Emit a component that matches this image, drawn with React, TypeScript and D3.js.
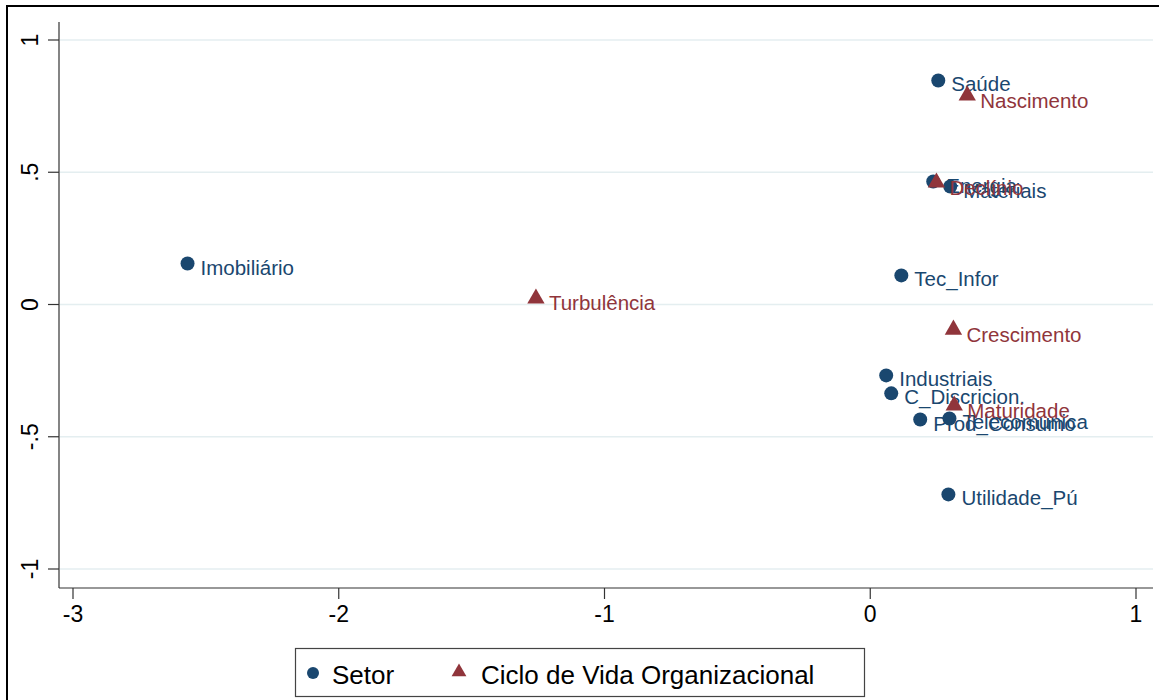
import React from "react";
import * as d3 from "d3";

const setorNames = ["Saúde", "Energia", "Materiais", "Imobiliário", "Tec_Infor", "Industriais", "C_Discricion.", "Prod_Consumo", "Telecomunica", "Utilidade_Pú"];
const setorX = [0.256, 0.237, 0.301, -2.569, 0.117, 0.06, 0.079, 0.188, 0.298, 0.294];
const setorY = [0.847, 0.465, 0.446, 0.155, 0.11, -0.268, -0.336, -0.435, -0.431, -0.718];

const cicloNames = ["Nascimento", "Declínio", "Turbulência", "Crescimento", "Maturidade"];
const cicloX = [0.365, 0.249, -1.258, 0.313, 0.316];
const cicloY = [0.79, 0.461, 0.023, -0.095, -0.382];

const xTicks = [-3, -2, -1, 0, 1];
const xTickLabels = ["-3", "-2", "-1", "0", "1"];
const yTicks = [-1, -0.5, 0, 0.5, 1];
const yTickLabels = ["-1", "-.5", "0", ".5", "1"];
const legendLabels = ["Setor", "Ciclo de Vida Organizacional"];

const BLUE = "#1a476f";
const RED = "#90353b";
const FONT = "'Liberation Sans', Arial, Helvetica, sans-serif";

export default function App() {
  const W = 1159, H = 700;
  const x = d3.scaleLinear().domain([-3, 1]).range([73, 1136]);
  const y = d3.scaleLinear().domain([-1, 1]).range([569, 40]);
  const axisX = 59, axisY = 588, plotRight = 1153, plotTop = 22;
  const tri = d3.symbol().type(d3.symbolTriangle).size(130)() as string;
  const triLeg = d3.symbol().type(d3.symbolTriangle).size(95)() as string;

  return (
    <div style={{ position: "absolute", left: 0, top: 0 }}>
      <svg width={W} height={H} style={{ display: "block", fontFamily: FONT }}>
        <rect x={0} y={0} width={W} height={H} fill="#fff" />
        <rect x={7} y={6} width={W + 10} height={H + 10} fill="none" stroke="#000" strokeWidth={2} />
        {yTicks.map((t) => (
          <line key={"g" + t} x1={axisX + 1} x2={plotRight} y1={y(t)} y2={y(t)} stroke="#e4eef0" strokeWidth={1.5} />
        ))}
        <line x1={axisX} x2={axisX} y1={plotTop} y2={axisY} stroke="#333" strokeWidth={1.2} />
        <line x1={axisX} x2={plotRight} y1={axisY} y2={axisY} stroke="#333" strokeWidth={1.2} />
        {yTicks.map((t, i) => (
          <g key={"yt" + t}>
            <line x1={axisX - 11} x2={axisX} y1={y(t)} y2={y(t)} stroke="#333" strokeWidth={1.2} />
            <text
              transform={`translate(${38},${y(t)}) rotate(-90)`}
              textAnchor="middle"
              fontSize={23}
              fill="#000"
            >
              {yTickLabels[i]}
            </text>
          </g>
        ))}
        {xTicks.map((t, i) => (
          <g key={"xt" + t}>
            <line x1={x(t)} x2={x(t)} y1={axisY} y2={axisY + 11} stroke="#333" strokeWidth={1.2} />
            <text x={x(t)} y={622} textAnchor="middle" fontSize={23} fill="#000">
              {xTickLabels[i]}
            </text>
          </g>
        ))}
        {setorNames.map((n, i) => (
          <g key={"s" + i}>
            <circle cx={x(setorX[i])} cy={y(setorY[i])} r={7} fill={BLUE} />
            <text x={x(setorX[i]) + 13} y={y(setorY[i]) + 11} fontSize={20.5} fill={BLUE}>
              {n}
            </text>
          </g>
        ))}
        {cicloNames.map((n, i) => (
          <g key={"c" + i}>
            <path d={tri} transform={`translate(${x(cicloX[i])},${y(cicloY[i])})`} fill={RED} />
            <text x={x(cicloX[i]) + 13} y={y(cicloY[i]) + 12} fontSize={20.5} fill={RED}>
              {n}
            </text>
          </g>
        ))}
        <rect x={295.5} y={648.5} width={569} height={48} fill="#fff" stroke="#444" strokeWidth={1.2} />
        <circle cx={313} cy={673} r={6} fill={BLUE} />
        <text x={332} y={684} fontSize={26} fill="#000">{legendLabels[0]}</text>
        <path d={triLeg} transform="translate(459,672)" fill={RED} />
        <text x={481} y={684} fontSize={26} fill="#000">{legendLabels[1]}</text>
      </svg>
    </div>
  );
}
